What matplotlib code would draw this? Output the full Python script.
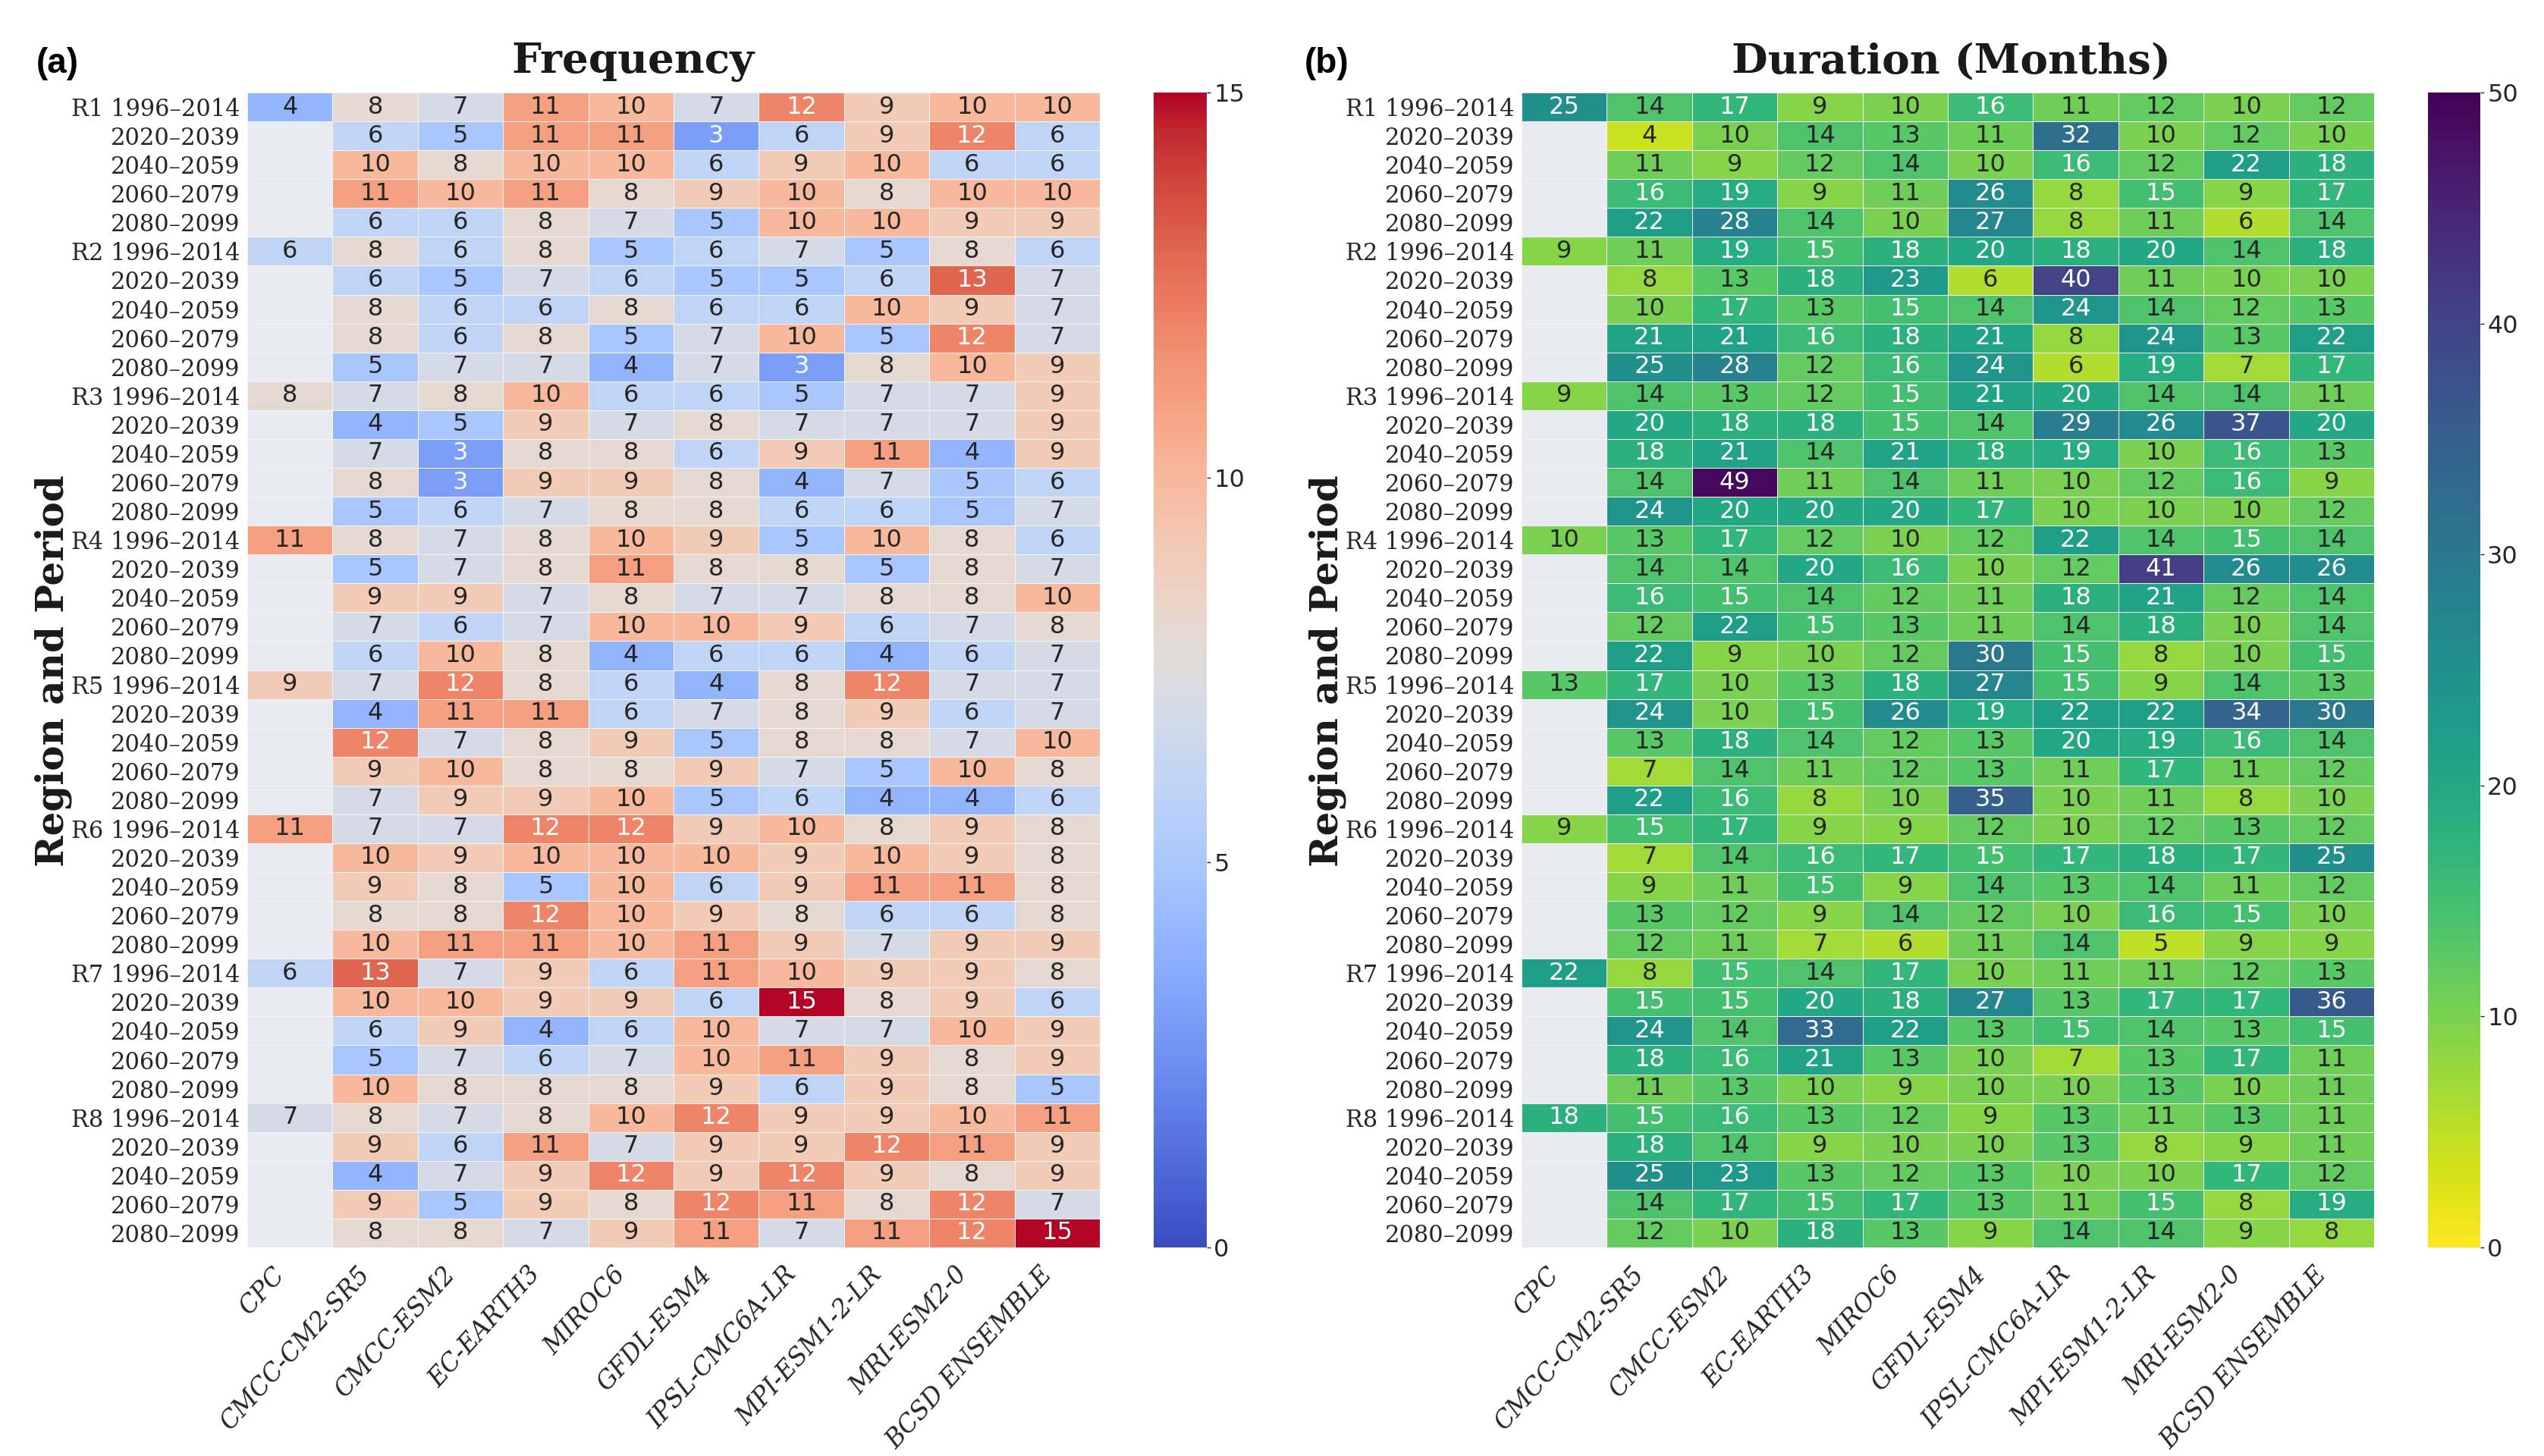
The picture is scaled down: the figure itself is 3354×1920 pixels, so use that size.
import matplotlib
matplotlib.use("Agg")
import matplotlib.pyplot as plt
import numpy as np

W, H = 3354, 1920
n = None

models = ["CPC", "CMCC-CM2-SR5", "CMCC-ESM2", "EC-EARTH3", "MIROC6", "GFDL-ESM4",
          "IPSL-CMC6A-LR", "MPI-ESM1-2-LR", "MRI-ESM2-0", "BCSD ENSEMBLE"]
regions = ["R1", "R2", "R3", "R4", "R5", "R6", "R7", "R8"]
periods = ["1996\u20132014", "2020\u20132039", "2040\u20132059", "2060\u20132079", "2080\u20132099"]

frequency = [
    [4, 8, 7, 11, 10, 7, 12, 9, 10, 10],
    [n, 6, 5, 11, 11, 3, 6, 9, 12, 6],
    [n, 10, 8, 10, 10, 6, 9, 10, 6, 6],
    [n, 11, 10, 11, 8, 9, 10, 8, 10, 10],
    [n, 6, 6, 8, 7, 5, 10, 10, 9, 9],
    [6, 8, 6, 8, 5, 6, 7, 5, 8, 6],
    [n, 6, 5, 7, 6, 5, 5, 6, 13, 7],
    [n, 8, 6, 6, 8, 6, 6, 10, 9, 7],
    [n, 8, 6, 8, 5, 7, 10, 5, 12, 7],
    [n, 5, 7, 7, 4, 7, 3, 8, 10, 9],
    [8, 7, 8, 10, 6, 6, 5, 7, 7, 9],
    [n, 4, 5, 9, 7, 8, 7, 7, 7, 9],
    [n, 7, 3, 8, 8, 6, 9, 11, 4, 9],
    [n, 8, 3, 9, 9, 8, 4, 7, 5, 6],
    [n, 5, 6, 7, 8, 8, 6, 6, 5, 7],
    [11, 8, 7, 8, 10, 9, 5, 10, 8, 6],
    [n, 5, 7, 8, 11, 8, 8, 5, 8, 7],
    [n, 9, 9, 7, 8, 7, 7, 8, 8, 10],
    [n, 7, 6, 7, 10, 10, 9, 6, 7, 8],
    [n, 6, 10, 8, 4, 6, 6, 4, 6, 7],
    [9, 7, 12, 8, 6, 4, 8, 12, 7, 7],
    [n, 4, 11, 11, 6, 7, 8, 9, 6, 7],
    [n, 12, 7, 8, 9, 5, 8, 8, 7, 10],
    [n, 9, 10, 8, 8, 9, 7, 5, 10, 8],
    [n, 7, 9, 9, 10, 5, 6, 4, 4, 6],
    [11, 7, 7, 12, 12, 9, 10, 8, 9, 8],
    [n, 10, 9, 10, 10, 10, 9, 10, 9, 8],
    [n, 9, 8, 5, 10, 6, 9, 11, 11, 8],
    [n, 8, 8, 12, 10, 9, 8, 6, 6, 8],
    [n, 10, 11, 11, 10, 11, 9, 7, 9, 9],
    [6, 13, 7, 9, 6, 11, 10, 9, 9, 8],
    [n, 10, 10, 9, 9, 6, 15, 8, 9, 6],
    [n, 6, 9, 4, 6, 10, 7, 7, 10, 9],
    [n, 5, 7, 6, 7, 10, 11, 9, 8, 9],
    [n, 10, 8, 8, 8, 9, 6, 9, 8, 5],
    [7, 8, 7, 8, 10, 12, 9, 9, 10, 11],
    [n, 9, 6, 11, 7, 9, 9, 12, 11, 9],
    [n, 4, 7, 9, 12, 9, 12, 9, 8, 9],
    [n, 9, 5, 9, 8, 12, 11, 8, 12, 7],
    [n, 8, 8, 7, 9, 11, 7, 11, 12, 15],
]

duration = [
    [25, 14, 17, 9, 10, 16, 11, 12, 10, 12],
    [n, 4, 10, 14, 13, 11, 32, 10, 12, 10],
    [n, 11, 9, 12, 14, 10, 16, 12, 22, 18],
    [n, 16, 19, 9, 11, 26, 8, 15, 9, 17],
    [n, 22, 28, 14, 10, 27, 8, 11, 6, 14],
    [9, 11, 19, 15, 18, 20, 18, 20, 14, 18],
    [n, 8, 13, 18, 23, 6, 40, 11, 10, 10],
    [n, 10, 17, 13, 15, 14, 24, 14, 12, 13],
    [n, 21, 21, 16, 18, 21, 8, 24, 13, 22],
    [n, 25, 28, 12, 16, 24, 6, 19, 7, 17],
    [9, 14, 13, 12, 15, 21, 20, 14, 14, 11],
    [n, 20, 18, 18, 15, 14, 29, 26, 37, 20],
    [n, 18, 21, 14, 21, 18, 19, 10, 16, 13],
    [n, 14, 49, 11, 14, 11, 10, 12, 16, 9],
    [n, 24, 20, 20, 20, 17, 10, 10, 10, 12],
    [10, 13, 17, 12, 10, 12, 22, 14, 15, 14],
    [n, 14, 14, 20, 16, 10, 12, 41, 26, 26],
    [n, 16, 15, 14, 12, 11, 18, 21, 12, 14],
    [n, 12, 22, 15, 13, 11, 14, 18, 10, 14],
    [n, 22, 9, 10, 12, 30, 15, 8, 10, 15],
    [13, 17, 10, 13, 18, 27, 15, 9, 14, 13],
    [n, 24, 10, 15, 26, 19, 22, 22, 34, 30],
    [n, 13, 18, 14, 12, 13, 20, 19, 16, 14],
    [n, 7, 14, 11, 12, 13, 11, 17, 11, 12],
    [n, 22, 16, 8, 10, 35, 10, 11, 8, 10],
    [9, 15, 17, 9, 9, 12, 10, 12, 13, 12],
    [n, 7, 14, 16, 17, 15, 17, 18, 17, 25],
    [n, 9, 11, 15, 9, 14, 13, 14, 11, 12],
    [n, 13, 12, 9, 14, 12, 10, 16, 15, 10],
    [n, 12, 11, 7, 6, 11, 14, 5, 9, 9],
    [22, 8, 15, 14, 17, 10, 11, 11, 12, 13],
    [n, 15, 15, 20, 18, 27, 13, 17, 17, 36],
    [n, 24, 14, 33, 22, 13, 15, 14, 13, 15],
    [n, 18, 16, 21, 13, 10, 7, 13, 17, 11],
    [n, 11, 13, 10, 9, 10, 10, 13, 10, 11],
    [18, 15, 16, 13, 12, 9, 13, 11, 13, 11],
    [n, 18, 14, 9, 10, 10, 13, 8, 9, 11],
    [n, 25, 23, 13, 12, 13, 10, 10, 17, 12],
    [n, 14, 17, 15, 17, 13, 11, 15, 8, 19],
    [n, 12, 10, 18, 13, 9, 14, 14, 9, 8],
]

row_labels = []
for r in regions:
    for i, p in enumerate(periods):
        row_labels.append(r + " " + p if i == 0 else p)


def px_axes(fig, x0, x1, y0, y1):
    return fig.add_axes([x0 / W, 1 - y1 / H, (x1 - x0) / W, (y1 - y0) / H])


def luminance(rgba):
    rgb = np.array(rgba[:3])
    rgb = np.where(rgb <= .03928, rgb / 12.92, ((rgb + .055) / 1.055) ** 2.4)
    return rgb.dot([.2126, .7152, .0722])


def draw_heat(fig, values, cmap, vmax, box, cbox, ticks, title, title_x, letter, letter_x, ylabel_x):
    data = np.array(values, dtype=float)
    ax = px_axes(fig, *box)
    ax.set_facecolor("#EAEAF2")
    mesh = ax.pcolormesh(np.ma.masked_invalid(data), cmap=cmap, vmin=0, vmax=vmax,
                         edgecolors="#f4f4f4", linewidth=0.5)
    # faint separators also run through the empty CPC cells
    ax.hlines(np.arange(1, data.shape[0]), 0, 1, colors="#f3f3f8", linewidth=0.8)
    ax.set_xlim(0, data.shape[1])
    ax.set_ylim(data.shape[0], 0)
    for s in ax.spines.values():
        s.set_visible(False)

    for i in range(data.shape[0]):
        for j in range(data.shape[1]):
            if np.isnan(data[i, j]):
                continue
            c = ".15" if luminance(mesh.cmap(mesh.norm(data[i, j]))) > .408 else "w"
            ax.text(j + .5, i + .5, "%d" % data[i, j], ha="center", va="center",
                    color=c, fontsize=23, family="DejaVu Sans")

    ax.set_yticks(np.arange(data.shape[0]) + .5)
    ax.set_yticklabels(row_labels, family="DejaVu Serif", fontsize=22, color=".15")
    ax.set_xticks(np.arange(data.shape[1]) + .5)
    ax.set_xticklabels(models, family="DejaVu Serif", style="italic", fontsize=23.5,
                       rotation=48, ha="right", color=".15")
    ax.tick_params(axis="both", length=0)
    ax.tick_params(axis="y", pad=7)
    ax.tick_params(axis="x", pad=14)

    fig.text(title_x / W, 1 - 82 / H, title, family="DejaVu Serif",
             weight="bold", fontsize=39.5, color=".1", ha="center", va="center")
    fig.text(letter_x / W, 1 - 84 / H, letter, family="Liberation Sans", weight="bold",
             fontsize=33, color="k", ha="left", va="center")
    fig.text(ylabel_x / W, 1 - 885 / H, "Region and Period", family="DejaVu Serif",
             weight="bold", fontsize=36, color=".1", rotation=90, ha="center", va="center")

    cax = px_axes(fig, *cbox)
    cb = fig.colorbar(mesh, cax=cax)
    cb.set_ticks(ticks)
    cb.outline.set_visible(False)
    cax.tick_params(length=3.5, width=1, pad=3, labelsize=23, labelcolor=".15", color=".15")
    for t in cax.get_yticklabels():
        t.set_family("DejaVu Sans")


fig = plt.figure(figsize=(W / 100, H / 100), dpi=100, facecolor="white")

draw_heat(fig, frequency, "coolwarm", 15, (326, 1450, 122, 1645), (1521, 1591, 122, 1645),
          [0, 5, 10, 15], "Frequency", 834, "(a)", 48, 70)
draw_heat(fig, duration, "viridis_r", 50, (2006, 3130, 122, 1645), (3201, 3270, 122, 1645),
          [0, 10, 20, 30, 40, 50], "Duration (Months)", 2572, "(b)", 1720, 1750)

fig.savefig("out.png", dpi=100)
